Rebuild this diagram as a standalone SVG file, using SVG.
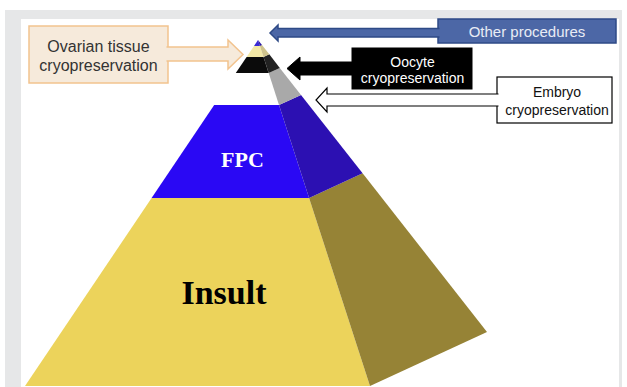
<svg xmlns="http://www.w3.org/2000/svg" width="627" height="387" viewBox="0 0 627 387">
<style>
.lbl{font-family:"Liberation Sans",Arial,sans-serif;text-anchor:middle}
.pyr{font-family:"Liberation Serif","Times New Roman",serif;font-weight:bold;text-anchor:middle}
</style>
<rect x="0" y="0" width="627" height="387" fill="#ffffff"/>
<rect x="5" y="10" width="617" height="377" fill="#e6e7e8"/>
<rect x="21" y="19" width="598" height="368" fill="#ffffff"/>

<g id="pyramid">
  <!-- Insult -->
  <polygon points="151.6,198 309.1,198 370,386 25,386" fill="#ecd35b"/>
  <polygon points="309.1,198 362.6,173.3 487,332 370,386" fill="#968336"/>
  <!-- FPC -->
  <polygon points="214.2,105 279,105 309.1,198 151.6,198" fill="#2a08f4"/>
  <polygon points="279,105 301,94.9 362.6,173.3 309.1,198" fill="#2c10b2"/>
  <!-- Embryo layer (white front, gray side) -->
  <polygon points="268.7,73 279.8,67.9 301,94.9 279,105" fill="#a9a9a9"/>
  <!-- Oocyte layer -->
  <polygon points="246.6,57 263.5,57 268.7,73 235.8,73" fill="#0b0b0b"/>
  <polygon points="263.5,57 269.3,54.3 279.8,67.9 268.7,73" fill="#222222"/>
  <!-- Ovarian tissue layer -->
  <polygon points="254,46 259.9,46 263.5,57 246.6,57" fill="#f3e8a6"/>
  <polygon points="259.9,46 262,45.1 269.3,54.3 263.5,57" fill="#cfc38c"/>
  <!-- Tip -->
  <polygon points="258,40 259.9,46 254,46" fill="#3a2ad6"/>
  <polygon points="258,40 262,45.1 259.9,46" fill="#2a1aa0"/>
  <text class="pyr" x="242.5" y="167" font-size="22" fill="#ffffff">FPC</text>
  <text class="pyr" x="224" y="304" font-size="34" fill="#000000">Insult</text>
</g>

<g id="ovarian">
  <rect x="29" y="26" width="139" height="57" fill="#f6eadb" stroke="#f2c38e" stroke-width="1.5"/>
  <text class="lbl" x="98.5" y="52" font-size="16" fill="#333333">Ovarian tissue</text>
  <text class="lbl" x="98.5" y="71" font-size="16" fill="#333333">cryopreservation</text>
</g>

<g id="other">
  <rect x="438" y="19" width="178" height="24" fill="#4c67a6" stroke="#2e4a86" stroke-width="1.5"/>
  <text class="lbl" x="527" y="37" font-size="15" fill="#e8ecf5">Other procedures</text>
</g>

<g id="oocyte">
  <rect x="352" y="48" width="120" height="41" fill="#000000" stroke="#000000" stroke-width="1"/>
  <text class="lbl" x="412.5" y="67" font-size="14" fill="#ffffff">Oocyte</text>
  <text class="lbl" x="412.5" y="83" font-size="14" fill="#ffffff">cryopreservation</text>
</g>

<g id="embryo">
  <rect x="497" y="77" width="115" height="46" fill="#ffffff" stroke="#000000" stroke-width="1.2"/>
  <text class="lbl" x="557" y="97" font-size="14" fill="#111111">Embryo</text>
  <text class="lbl" x="557" y="115" font-size="14" fill="#111111">cryopreservation</text>
</g>

<g id="connectors" stroke-linejoin="miter">
  <path d="M166.5,47 H228 V40 L243,54.5 L228,69 V61 H166.5" fill="#f6eadb" stroke="#f2c38e" stroke-width="1.5"/>
  <path d="M439.5,28.5 H278 V25 L270,33 L278,41 V37 H439.5" fill="#4c67a6" stroke="#2e4a86" stroke-width="1.5"/>
  <path d="M353,62 H300 V57 L287,68.5 L300,80 V75 H353" fill="#000000" stroke="#000000" stroke-width="1"/>
  <path d="M498.5,94 H327 V88 L316,100 L327,112 V106 H498.5" fill="#ffffff" stroke="#000000" stroke-width="1.2"/>
</g>
</svg>
